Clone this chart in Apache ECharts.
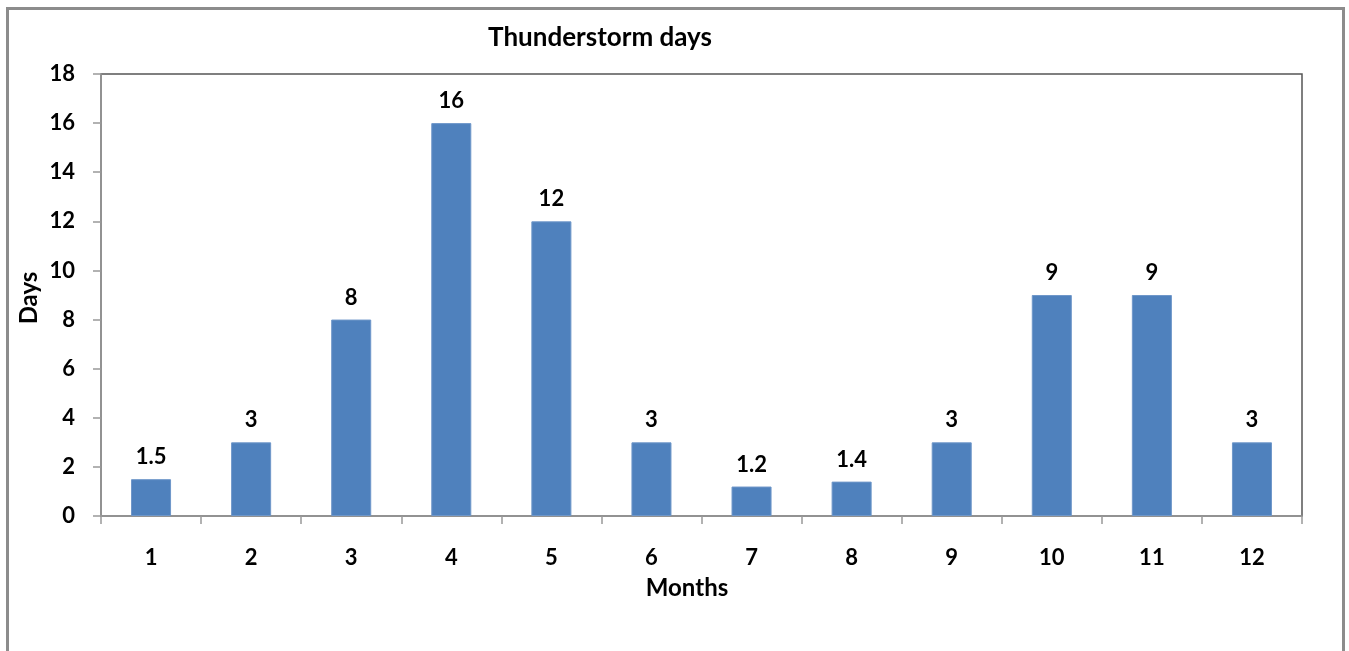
<!DOCTYPE html>
<html>
<head>
<meta charset="utf-8">
<script src="https://cdn.jsdelivr.net/npm/echarts@6/dist/echarts.min.js"></script>
<style>
  html, body { margin: 0; padding: 0; background: #fff; }
  #chart { width: 1349px; height: 651px; }
</style>
</head>
<body>
<div id="chart"></div>
<script>
// Monthly count of thunderstorm days
const months = ['1', '2', '3', '4', '5', '6', '7', '8', '9', '10', '11', '12'];
const stormDays = [1.5, 3, 8, 16, 12, 3, 1.2, 1.4, 3, 9, 9, 3];
const yTicks = { min: 0, max: 18, step: 2 };

const FONT = 'Lato';

const chart = echarts.init(document.getElementById('chart'));
chart.setOption({
  animation: false,
  backgroundColor: '#fff',
  textStyle: { fontFamily: FONT },
  graphic: [
    {
      type: 'rect',
      shape: { x: 7.5, y: 8.5, width: 1336, height: 700 },
      style: { fill: 'none', stroke: '#8c8c8c', lineWidth: 3 },
      silent: true
    },
    {
      type: 'text',
      x: 600, y: 38,
      style: {
        text: 'Thunderstorm days', fontFamily: FONT, fontSize: 26, fontWeight: 'bold',
        fill: '#000', align: 'center', verticalAlign: 'middle'
      }
    },
    {
      type: 'text',
      x: 687, y: 588,
      style: {
        text: 'Months', fontFamily: FONT, fontSize: 24, fontWeight: 'bold',
        fill: '#000', align: 'center', verticalAlign: 'middle'
      }
    },
    {
      type: 'text',
      x: 29, y: 298,
      rotation: Math.PI / 2,
      style: {
        text: 'Days', fontFamily: FONT, fontSize: 24, fontWeight: 'bold',
        fill: '#000', align: 'center', verticalAlign: 'middle'
      }
    }
  ],
  grid: {
    left: 101, top: 74, right: 47, bottom: 135,
    show: true, borderColor: '#555', borderWidth: 1.5, backgroundColor: '#fff'
  },
  xAxis: {
    type: 'category',
    data: months,
    axisLine: { lineStyle: { color: '#999', width: 1.5 } },
    axisTick: { show: true, length: 8, alignWithLabel: false, lineStyle: { color: '#999', width: 1.5 } },
    axisLabel: { color: '#000', fontSize: 22, fontWeight: 'bold', fontFamily: FONT, margin: 31 },
    splitLine: { show: false }
  },
  yAxis: {
    type: 'value',
    min: yTicks.min,
    max: yTicks.max,
    interval: yTicks.step,
    axisLine: { show: true, lineStyle: { color: '#999', width: 1.5 } },
    axisTick: { show: true, length: 8, lineStyle: { color: '#999', width: 1.5 } },
    axisLabel: { color: '#000', fontSize: 22, fontWeight: 'bold', fontFamily: FONT, margin: 26 },
    splitLine: { show: false }
  },
  series: [{
    type: 'bar',
    data: stormDays,
    barWidth: '40%',
    itemStyle: { color: '#4F81BD', borderColor: '#6f97c9', borderWidth: 1 },
    label: {
      show: true,
      position: 'top',
      distance: 11,
      color: '#000',
      fontSize: 22,
      fontWeight: 'bold',
      fontFamily: FONT
    }
  }]
});
</script>
</body>
</html>
